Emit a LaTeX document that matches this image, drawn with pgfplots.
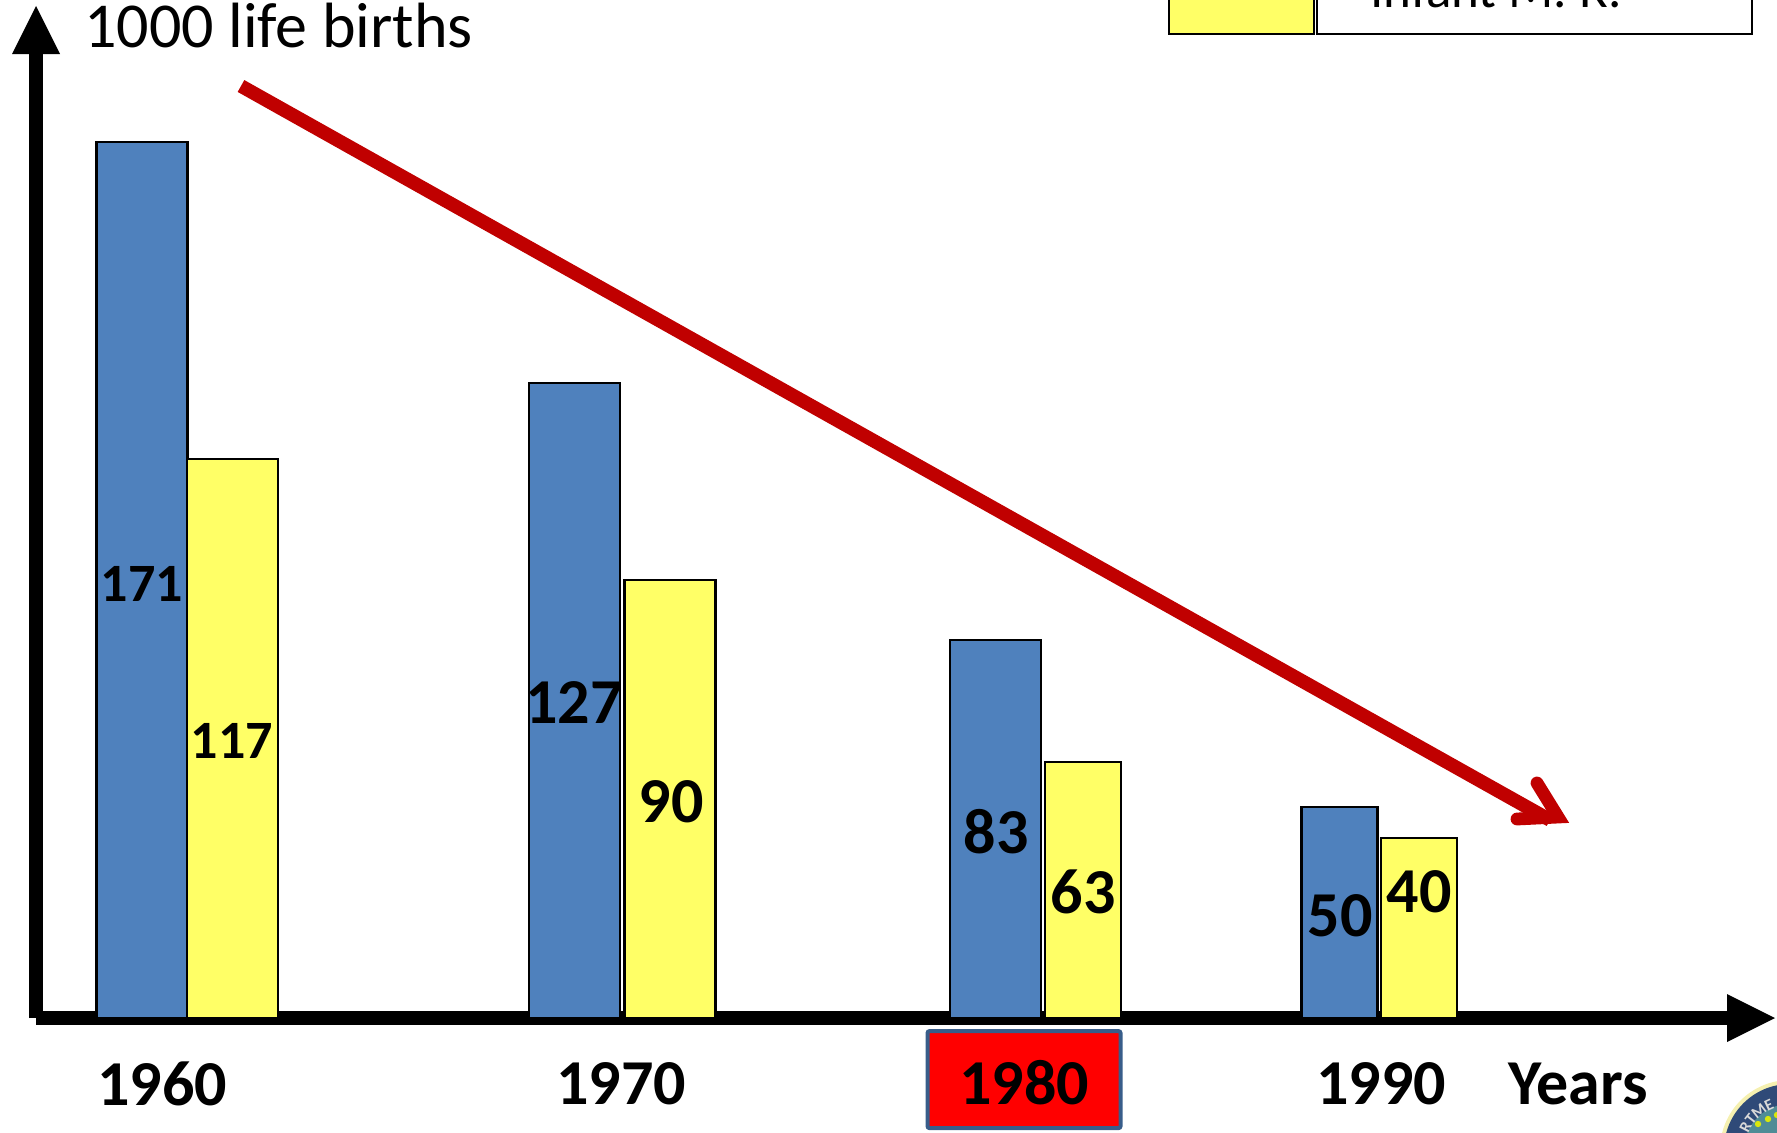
\documentclass[border=0pt]{standalone}
\usepackage{pgfplots}
\pgfplotsset{compat=1.18}
\usepackage{fontspec}
\setmainfont{Carlito}
\definecolor{barblue}{HTML}{4F81BD}
\definecolor{baryellow}{HTML}{FFFF66}
\definecolor{boxedge}{HTML}{385D8A}
\definecolor{trend}{HTML}{C00000}
\definecolor{sealnavy}{HTML}{2F4A78}
\definecolor{sealteal}{HTML}{4F8C96}
\definecolor{sealhalo}{HTML}{F5F0B0}
\begin{document}
\begin{tikzpicture}
\path[use as bounding box] (0,-57pt) rectangle (888.5pt,509pt);
\begin{axis}[
  at={(0,0)}, anchor=south west,
  scale only axis, width=888.5pt, height=509pt,
  xmin=0, xmax=1777, ymin=0, ymax=1018,
  clip=false,
  axis line style={draw=none},
  ytick=\empty,
  xtick={162,621,1381,1578},
  xticklabels={1960,1970,1990,Years},
  extra x ticks={1024},
  extra x tick labels={1980},
  extra x tick style={
    xticklabel style={fill=red, draw=boxedge, line width=2pt, rounded corners=1pt,
      minimum width=96.5pt, minimum height=48.5pt, inner sep=0pt, yshift=2.2pt,
      text height=24.6pt, text depth=0pt}},
  major tick length=0pt,
  xticklabel style={font=\fontsize{32}{32}\selectfont\bfseries, anchor=center, yshift=-33pt},
]
% axes arrows
\addplot[black, line width=7pt, forget plot] coordinates {(36,0) (36,965)};
\addplot[black, line width=7pt, forget plot] coordinates {(36,0) (1728,0)};
\addplot[black, fill=black, draw=none, forget plot] coordinates {(12,964) (60,964) (36,1012)} -- cycle;
\addplot[black, fill=black, draw=none, forget plot] coordinates {(1727,24) (1727,-24) (1775,0)} -- cycle;
% bars (height above the baseline)
\addplot[ybar, bar shift=0pt, bar width=91, fill=barblue, draw=black, line width=1.2pt] coordinates {(141.8,876) (574.3,635) (995.3,378)};
\addplot[ybar, bar shift=0pt, bar width=76, fill=barblue, draw=black, line width=1.2pt] coordinates {(1339.3,211)};
\addplot[ybar, bar shift=0pt, bar width=91, fill=baryellow, draw=black, line width=1.2pt] coordinates {(232.5,559) (670,438)};
\addplot[ybar, bar shift=0pt, bar width=76, fill=baryellow, draw=black, line width=1.2pt] coordinates {(1083,256) (1419,180)};
% trend arrow
\addplot[trend, line width=6.8pt, forget plot] coordinates {(241,932) (1550,198)};
\addplot[trend, line width=6.4pt, line cap=round, line join=miter, forget plot] coordinates {(1517,199) (1558,201) (1537,235)};
% value labels
\tikzset{v/.style={font=\fontsize{32}{32}\selectfont\bfseries, anchor=center, inner sep=0pt},
         w/.style={font=\fontsize{27}{27}\selectfont\bfseries, anchor=center, inner sep=0pt},
         s/.style={font=\fontsize{8}{8}\selectfont\bfseries, text=white!85!black, anchor=center, inner sep=0pt}}
\node[w] at (axis cs:142,434) {171};
\node[w] at (axis cs:232,277) {117};
\node[v] at (axis cs:574,315) {127};
\node[v] at (axis cs:671,216) {90};
\node[v] at (axis cs:996,186) {83};
\node[v] at (axis cs:1083,126) {63};
\node[v] at (axis cs:1340,102) {50};
\node[v] at (axis cs:1419,126) {40};
% y title, cut by the page
\node[font=\fontsize{32}{32}\selectfont, anchor=base west, inner sep=0pt] at (axis cs:84,970) {1000 life births};
% legend, cut by the page
\addplot[fill=baryellow, draw=black, line width=1pt, forget plot] coordinates {(1169,984) (1314,984) (1314,1040) (1169,1040)} -- cycle;
\addplot[fill=white, draw=black, line width=1pt, forget plot] coordinates {(1317,984) (1752,984) (1752,1040) (1317,1040)} -- cycle;
\node[font=\fontsize{26.5}{26.5}\selectfont, anchor=base, inner sep=0pt] at (axis cs:1496,1010) {Infant M. R.};
% seal in the corner, cut by the page
\fill[sealhalo] (axis cs:1790,-132) circle[radius=35pt];
\fill[sealnavy] (axis cs:1790,-132) circle[radius=33pt];
\fill[sealteal] (axis cs:1790,-132) circle[radius=23pt];
\fill[yellow!85!green] (axis cs:1758,-106) circle[radius=1.6pt];
\fill[yellow!85!green] (axis cs:1768,-101) circle[radius=1.6pt];
\fill[yellow!85!green] (axis cs:1777,-97) circle[radius=1.6pt];
\node[s, rotate=75] at (axis cs:1742,-119) {A};
\node[s, rotate=63] at (axis cs:1745.4,-109) {R};
\node[s, rotate=52] at (axis cs:1750.6,-101) {T};
\node[s, rotate=38] at (axis cs:1759,-93) {M};
\node[s, rotate=25] at (axis cs:1769,-87) {E};
\end{axis}
\end{tikzpicture}
\end{document}
